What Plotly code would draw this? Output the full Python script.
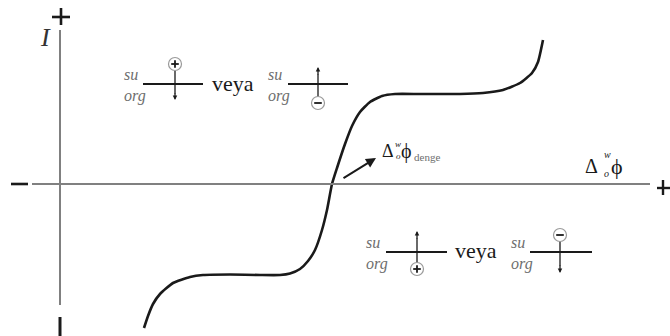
import plotly.graph_objects as go

# Current-potential curve (origin at the axis crossing)
curve_x = [84, 88, 93, 100, 113, 130, 143, 170, 200, 220, 230, 240, 248, 255, 262, 267,
           272, 277, 285, 292, 300, 310, 322, 335, 360, 400, 423, 443, 460, 472, 478, 483]
curve_y = [-144, -132, -120, -110, -99, -93, -91, -90.5, -91, -91, -89.5, -85, -77, -66,
           -46, -26, 0, 16, 40, 58, 72, 82, 88, 90, 90, 90, 91, 94, 101, 111, 122, 144]

# Labels
axis_y_label = "I"
or_word = "veya"
phase_top = "su"
phase_bottom = "org"
eq_sub = "denge"

SERIF = '"Liberation Serif", "Times New Roman", "DejaVu Serif", serif'
AXIS_GRAY = "#808080"
DARK = "#1a1a1a"
TEXT_GRAY = "#6e6e6e"

fig = go.Figure()
fig.add_trace(go.Scatter(x=curve_x, y=curve_y, mode="lines",
                         line=dict(color=DARK, width=2.6, shape="spline", smoothing=0.5),
                         hoverinfo="skip", showlegend=False))

shapes = []
annotations = []


def line(x0, y0, x1, y1, color=DARK, width=2):
    shapes.append(dict(type="line", x0=x0, y0=y0, x1=x1, y1=y1, xref="x", yref="y",
                       line=dict(color=color, width=width)))


def text(x, y, s, size, color=DARK, italic=False, xanchor="center"):
    annotations.append(dict(x=x, y=y, xref="x", yref="y", text=s, showarrow=False,
                            xanchor=xanchor, yanchor="middle",
                            font=dict(family=SERIF, size=size, color=color,
                                      style="italic" if italic else "normal")))


def arrow(x0, y0, x1, y1, size=0.7, width=1.3):
    annotations.append(dict(x=x1, y=y1, ax=x0, ay=y0, xref="x", yref="y",
                            axref="x", ayref="y", text="", showarrow=True,
                            arrowhead=2, arrowsize=size, arrowwidth=width,
                            arrowcolor=DARK, standoff=0, startstandoff=0))


def charge(cx, cy, sign, r=6.5):
    shapes.append(dict(type="circle", x0=cx - r, y0=cy - r, x1=cx + r, y1=cy + r,
                       xref="x", yref="y", line=dict(color="#9a9a9a", width=1.2),
                       fillcolor="white"))
    line(cx - 3.8, cy, cx + 3.8, cy, width=1.8)
    if sign == "+":
        line(cx, cy - 3.8, cx, cy + 3.8, width=1.8)


# Axes
line(0, 154, 0, -121, color=AXIS_GRAY, width=2)
line(-28, 0, 590, 0, color=AXIS_GRAY, width=2)
# Axis end signs
line(-8, 167, 10, 167, width=2.6)
line(1, 159, 1, 176, width=2.6)
line(597, -4, 610, -4, width=2.4)
line(603, 4, 603, -11, width=2.4)
line(-49, 0, -32, 0, width=2.6)
line(0, -133, 0, -152, width=3)
text(-15, 147, axis_y_label, 26, color="#333", italic=True)


def interface(x0, x1, y, label_x):
    line(x0, y, x1, y, width=2)
    text(label_x, y + 10, phase_top, 16, color=TEXT_GRAY, italic=True, xanchor="left")
    text(label_x, y - 12, phase_bottom, 16, color=TEXT_GRAY, italic=True, xanchor="left")


# Upper-left pair
interface(83, 143, 100, 62)
line(115, 113, 115, 90, width=1.3)
arrow(115, 92, 115, 84)
charge(115, 120, "+")
text(173, 101, or_word, 22)

interface(228, 288, 100, 206)
line(258, 87, 258, 110, width=1.3)
arrow(258, 108, 258, 117)
charge(258, 81, "-")

# Lower-right pair
interface(326, 387, -68, 304)
line(357, -79, 357, -54, width=1.3)
arrow(357, -56, 357, -47)
charge(357, -85, "+")
text(416, -66, or_word, 22)

interface(470, 532, -68, 449)
line(500, -57, 500, -82, width=1.3)
arrow(500, -80, 500, -89)
charge(500, -51, "-")

# Equilibrium potential label
arrow(282, 5, 316, 26, size=1.0, width=2)
text(328, 33, "Δ", 18)
text(337.5, 40, "w", 9, italic=True)
text(338, 28, "o", 9, italic=True)
text(346, 33, "ϕ", 20)
text(352, 27, eq_sub, 11, color=TEXT_GRAY, xanchor="left")

# Potential axis label
text(531, 18, "Δ", 20)
text(547, 30, "w", 10, italic=True)
text(546, 11, "o", 10, italic=True)
text(557, 18, "ϕ", 22)

fig.update_layout(
    width=670, height=336,
    margin=dict(l=0, r=0, t=0, b=0),
    paper_bgcolor="white", plot_bgcolor="white",
    xaxis=dict(range=[-60, 610], visible=False, fixedrange=True),
    yaxis=dict(range=[-152, 184], visible=False, fixedrange=True),
    shapes=shapes, annotations=annotations, showlegend=False,
)

fig.write_html("out.html")
